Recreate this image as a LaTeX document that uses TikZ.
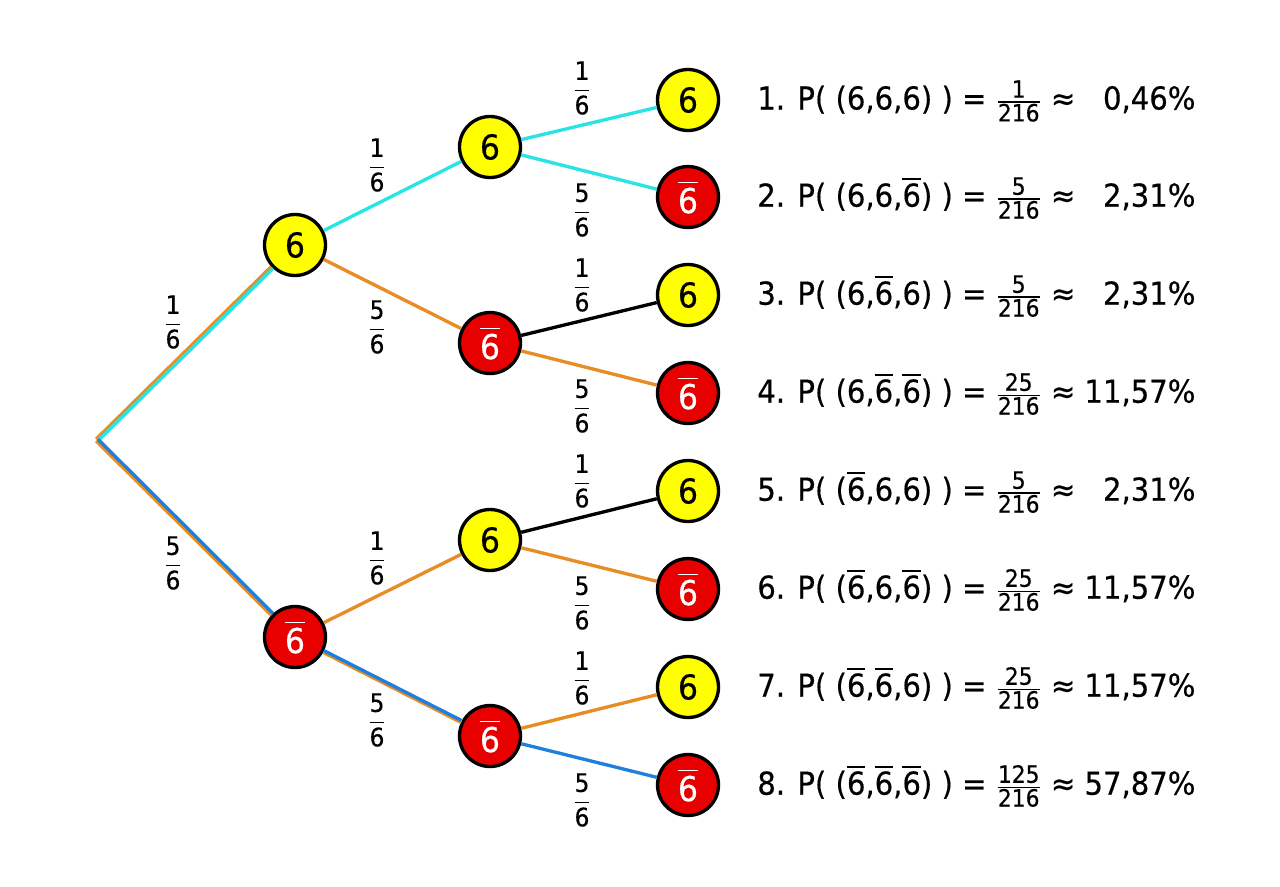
\documentclass[tikz,border=0pt]{standalone}
\usepackage{amsmath}
\usepackage{fontspec}
\setmainfont{DejaVu Sans}[FakeStretch=0.92,FakeBold=0.4]
\usetikzlibrary{positioning}
\usetikzlibrary{backgrounds}
\definecolor{tcyan}{RGB}{40,228,228}
\definecolor{torange}{RGB}{232,140,36}
\definecolor{tblue}{RGB}{30,128,222}
\definecolor{tred}{RGB}{232,0,0}
\definecolor{tyellow}{RGB}{255,255,0}
\newcommand{\nsix}{$\overline{\text{6}}$}
\newcommand{\efrac}[2]{$\dfrac{\text{#1}}{\text{#2}}$}
\newcommand{\rfrac}[1]{$\frac{\text{\fontsize{13.5}{15}\selectfont #1}}{\text{\fontsize{13.5}{15}\selectfont 216}}$}
\newcommand{\pct}[1]{\hphantom{11,57\%}\llap{#1}}
\tikzset{
	six/.style={circle,draw=black,line width=1.9pt,fill=tyellow,inner sep=0pt,minimum size=1.22cm,font=\fontsize{19.5}{22}\selectfont},
	nosix/.style={six,fill=tred,text=white},
	branch/.style={line width=1.9pt},
	prob/.style={font=\fontsize{14.5}{16}\selectfont},
	res/.style={anchor=west,inner sep=0pt,font=\fontsize{18}{22}\selectfont},
}

\begin{document}
\begin{tikzpicture}[x=0.02cm,y=-0.02cm]
				\useasboundingbox (0,0) rectangle (1280,886);
				% tree
				\coordinate (root) at (97,440);
				\node[six] (a) at (295,245) {6};
				\node[nosix] (b) at (295,637) {\nsix};
				\node[six] (aa) at (490,147) {6};
				\node[nosix] (ab) at (490,343) {\nsix};
				\node[six] (ba) at (490,540) {6};
				\node[nosix] (bb) at (490,736) {\nsix};
				\node[six] (aaa) at (688,100) {6};
				\node[nosix] (aab) at (688,197) {\nsix};
				\node[six] (aba) at (688,295) {6};
				\node[nosix] (abb) at (688,393) {\nsix};
				\node[six] (baa) at (688,491) {6};
				\node[nosix] (bab) at (688,589) {\nsix};
				\node[six] (bba) at (688,687) {6};
				\node[nosix] (bbb) at (688,785) {\nsix};
				% branches
				\draw[branch,torange,transform canvas={xshift=-0.5pt,yshift=0.5pt}] (root) -- (a);
				\draw[branch,tcyan,transform canvas={xshift=0.5pt,yshift=-0.5pt}] (root) -- (a);
				\draw[branch,torange,transform canvas={xshift=-0.5pt,yshift=-0.5pt}] (root) -- (b);
				\draw[branch,tblue,transform canvas={xshift=0.5pt,yshift=0.5pt}] (root) -- (b);
				\draw[branch,tcyan] (a) -- (aa);
				\draw[branch,torange] (a) -- (ab);
				\draw[branch,torange] (b) -- (ba);
				\draw[branch,torange,transform canvas={yshift=-0.6pt}] (b) -- (bb);
				\draw[branch,tblue,transform canvas={yshift=0.6pt}] (b) -- (bb);
				\draw[branch,tcyan] (aa) -- (aaa);
				\draw[branch,tcyan] (aa) -- (aab);
				\draw[branch,black] (ab) -- (aba);
				\draw[branch,torange] (ab) -- (abb);
				\draw[branch,black] (ba) -- (baa);
				\draw[branch,torange] (ba) -- (bab);
				\draw[branch,torange] (bb) -- (bba);
				\draw[branch,tblue] (bb) -- (bbb);
				% probabilities on the branches
				\node[prob] (pa) at (173,322) {\efrac{1}{6}};
				\node[prob] (pb) at (173,563) {\efrac{5}{6}};
				\node[prob] (paa) at (377,165) {\efrac{1}{6}};
				\node[prob] (pab) at (377,327) {\efrac{5}{6}};
				\node[prob] (pba) at (377,558) {\efrac{1}{6}};
				\node[prob] (pbb) at (377,720) {\efrac{5}{6}};
				\node[prob] (paaa) at (582,88) {\efrac{1}{6}};
				\node[prob] (paab) at (582,210) {\efrac{5}{6}};
				\node[prob] (paba) at (582,285) {\efrac{1}{6}};
				\node[prob] (pabb) at (582,406) {\efrac{5}{6}};
				\node[prob] (pbaa) at (582,481) {\efrac{1}{6}};
				\node[prob] (pbab) at (582,603) {\efrac{5}{6}};
				\node[prob] (pbba) at (582,678) {\efrac{1}{6}};
				\node[prob] (pbbb) at (582,800) {\efrac{5}{6}};
				% results
				\node[res] (r1) at (757,101) {1. P( (6,6,6) ) = \rfrac{1} ≈ \pct{0,46\%}};
				\node[res] (r2) at (757,198) {2. P( (6,6,\nsix) ) = \rfrac{5} ≈ \pct{2,31\%}};
				\node[res] (r3) at (757,296) {3. P( (6,\nsix,6) ) = \rfrac{5} ≈ \pct{2,31\%}};
				\node[res] (r4) at (757,394) {4. P( (6,\nsix,\nsix) ) = \rfrac{25} ≈ \pct{11,57\%}};
				\node[res] (r5) at (757,492) {5. P( (\nsix,6,6) ) = \rfrac{5} ≈ \pct{2,31\%}};
				\node[res] (r6) at (757,590) {6. P( (\nsix,6,\nsix) ) = \rfrac{25} ≈ \pct{11,57\%}};
				\node[res] (r7) at (757,688) {7. P( (\nsix,\nsix,6) ) = \rfrac{25} ≈ \pct{11,57\%}};
				\node[res] (r8) at (757,786) {8. P( (\nsix,\nsix,\nsix) ) = \rfrac{125} ≈ \pct{57,87\%}};
\end{tikzpicture}
\end{document}
